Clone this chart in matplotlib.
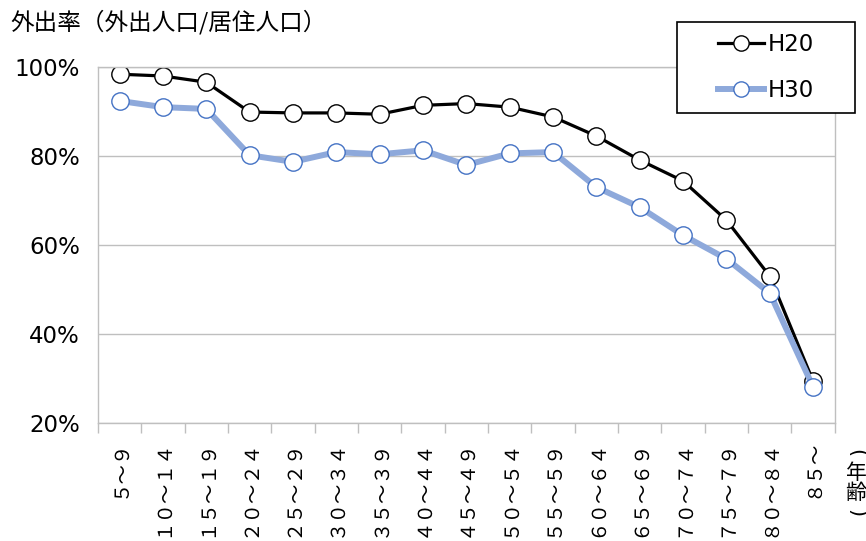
import matplotlib.pyplot as plt
from matplotlib.patches import Rectangle
import numpy as np

# age groups (full-width digits, drawn vertically)
ages = ['５～９', '１０～１４', '１５～１９', '２０～２４', '２５～２９', '３０～３４',
        '３５～３９', '４０～４４', '４５～４９', '５０～５４', '５５～５９', '６０～６４',
        '６５～６９', '７０～７４', '７５～７９', '８０～８４', '８５～']

# trip rate (%)
h20 = [98.4, 98.0, 96.6, 89.9, 89.7, 89.7, 89.4, 91.4, 91.8, 91.0, 88.8,
       84.5, 79.1, 74.4, 65.6, 53.0, 29.4]
h30 = [92.4, 91.0, 90.6, 80.2, 78.7, 80.9, 80.4, 81.3, 78.0, 80.6, 80.9,
       73.0, 68.5, 62.2, 56.9, 49.2, 28.1]

yticks = [20, 40, 60, 80, 100]

plt.rcParams['font.family'] = ['DejaVu Sans', 'Noto Sans CJK JP']
cjk = ['Noto Sans CJK JP', 'DejaVu Sans']
grid_col = '#BFBFBF'

fig = plt.figure(figsize=(8.66, 5.41), dpi=100)
ax = fig.add_axes([0.113, 0.218, 0.851, 0.658])

x = np.arange(len(ages))
l1, = ax.plot(x, h20, color='black', lw=2.3, marker='o', ms=12.5,
              mfc='white', mec='black', mew=1.0, label='H20', zorder=2)
l2, = ax.plot(x, h30, color='#8EA9DB', lw=4.3, marker='o', ms=12.5,
              mfc='white', mec='#4472C4', mew=1.0, label='H30', zorder=3)

ax.set_xlim(-0.5, len(ages) - 0.5)
ax.set_ylim(20, 100)
ax.set_yticks(yticks)
ax.set_yticklabels([f'{v}%' for v in yticks], fontsize=16.5)
ax.tick_params(axis='y', length=0, pad=13)
ax.yaxis.grid(True, color=grid_col, lw=1.0)
ax.set_axisbelow(True)

ax.set_xticks(x)
ax.set_xticklabels(ages, rotation=90, fontsize=14, family=cjk)
ax.tick_params(axis='x', which='major', length=0, pad=12)
ax.set_xticks(np.arange(len(ages) + 1) - 0.5, minor=True)
ax.tick_params(axis='x', which='minor', length=7, color=grid_col, width=1.0)

for s in ax.spines.values():
    s.set_color(grid_col)
    s.set_linewidth(1.0)

fig.text(0.012, 0.959, '外出率（外出人口/居住人口）', fontsize=17,
         family=cjk, va='center', ha='left')

# vertical axis title at the right: (年齢)
xt = 856 / 866
fig.text(xt, 1 - 453 / 541, '(', fontsize=15, rotation=270,
         va='center', ha='center')
fig.text(xt, 1 - 483 / 541, '年\n齢', fontsize=15, family=cjk,
         va='center', ha='center', linespacing=0.9)
fig.text(xt, 1 - 513 / 541, ')', fontsize=15, rotation=270,
         va='center', ha='center')

# legend box drawn separately so it can be wider than its content
fig.patches.append(Rectangle((677 / 866, 1 - 113 / 541), 178 / 866, 91 / 541,
                             transform=fig.transFigure, fill=True, fc='white',
                             ec='black', lw=1.2, zorder=4))
leg = fig.legend(handles=[l1, l2], loc='center',
                 bbox_to_anchor=(766 / 866, 1 - 67.5 / 541),
                 fontsize=16.5, frameon=False,
                 handlelength=2.0, handletextpad=0.2, labelspacing=1.0,
                 borderpad=0, borderaxespad=0)
leg.set_zorder(6)
for h in leg.legend_handles:
    h.set_markersize(11)

fig.savefig('out.png', dpi=100)
